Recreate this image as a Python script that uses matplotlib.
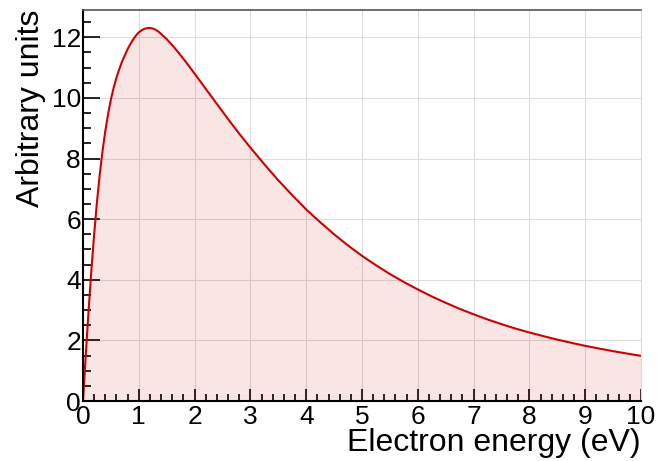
import numpy as np
import matplotlib
matplotlib.use('Agg')
import matplotlib.pyplot as plt
from matplotlib.ticker import MultipleLocator

# values
energy = [0.0, 0.05, 0.10, 0.15, 0.20, 0.25, 0.30, 0.35, 0.40, 0.45,
          0.50, 0.55, 0.60, 0.65, 0.70, 0.75, 0.80, 0.85, 0.90, 0.95,
          1.00, 1.05, 1.10, 1.15, 1.20, 1.25, 1.30, 1.35, 1.40, 1.50,
          1.60, 1.70, 1.80, 1.90, 2.00, 2.10, 2.20, 2.30, 2.40, 2.50,
          2.60, 2.70, 2.80, 2.90, 3.00, 3.25, 3.50, 3.75, 4.00, 4.25,
          4.50, 4.75, 5.00, 5.25, 5.50, 5.75, 6.00, 6.25, 6.50, 6.75,
          7.00, 7.25, 7.50, 7.75, 8.00, 8.25, 8.50, 8.75, 9.00, 9.25,
          9.50, 9.75, 10.0]
counts = [0.0, 1.53, 2.98, 4.31, 5.51, 6.56, 7.47, 8.25, 8.91, 9.47,
          9.95, 10.34, 10.67, 10.95, 11.20, 11.41, 11.61, 11.78, 11.93, 12.06,
          12.16, 12.23, 12.28, 12.30, 12.31, 12.29, 12.25, 12.19, 12.11, 11.94,
          11.74, 11.52, 11.29, 11.05, 10.80, 10.55, 10.30, 10.05, 9.80, 9.55,
          9.30, 9.06, 8.82, 8.59, 8.36, 7.81, 7.28, 6.79, 6.32, 5.90,
          5.50, 5.13, 4.79, 4.48, 4.19, 3.925, 3.68, 3.45, 3.24, 3.04,
          2.86, 2.69, 2.535, 2.39, 2.26, 2.14, 2.025, 1.92, 1.82, 1.73,
          1.645, 1.565, 1.49]

x_ticks = [0, 1, 2, 3, 4, 5, 6, 7, 8, 9, 10]
y_ticks = [0, 2, 4, 6, 8, 10, 12]

plt.rcParams['font.family'] = ['Liberation Sans', 'DejaVu Sans']

fig = plt.figure(figsize=(6.7, 4.61), dpi=100)
ax = fig.add_axes([83 / 670, 60 / 461, 558 / 670, 391 / 461])

ax.grid(True, color='#dddddd', linewidth=0.8)
ax.set_axisbelow(True)
ax.fill_between(energy, counts, 0, color='#d00000', alpha=0.1, linewidth=0)
ax.plot(energy, counts, color='#d00000', linewidth=1.5)

ax.set_xlim(0, 10)
ax.set_ylim(0, 12.9)
ax.set_xticks(x_ticks)
ax.set_yticks(y_ticks)
ax.xaxis.set_minor_locator(MultipleLocator(0.2))
ax.yaxis.set_minor_locator(MultipleLocator(0.5))

ax.tick_params(axis='x', which='major', direction='in', length=8.6, width=1.2,
               labelsize=19, pad=3, colors='black')
ax.tick_params(axis='x', which='minor', direction='in', length=4.7, width=1.2)
ax.tick_params(axis='y', which='major', direction='in', length=12.2, width=1.2,
               labelsize=19, pad=1.5)
ax.tick_params(axis='y', which='minor', direction='in', length=6.1, width=1.2)

ax.spines['left'].set_linewidth(1.5)
ax.spines['bottom'].set_linewidth(1.5)
ax.spines['top'].set_color('#555555')
ax.spines['top'].set_linewidth(1.2)
ax.spines['right'].set_color('#dddddd')
ax.spines['right'].set_linewidth(0.8)

ax.set_xlabel('Electron energy (eV)', fontsize=23)
ax.xaxis.set_label_coords(1.0, -0.107)
ax.xaxis.label.set_ha('right')
ax.xaxis.label.set_va('center')

ax.set_ylabel('Arbitrary units', fontsize=23)
ax.yaxis.set_label_coords(-0.093, 1.0)
ax.yaxis.label.set_ha('right')
ax.yaxis.label.set_va('center')

fig.savefig('out.png', dpi=100)
